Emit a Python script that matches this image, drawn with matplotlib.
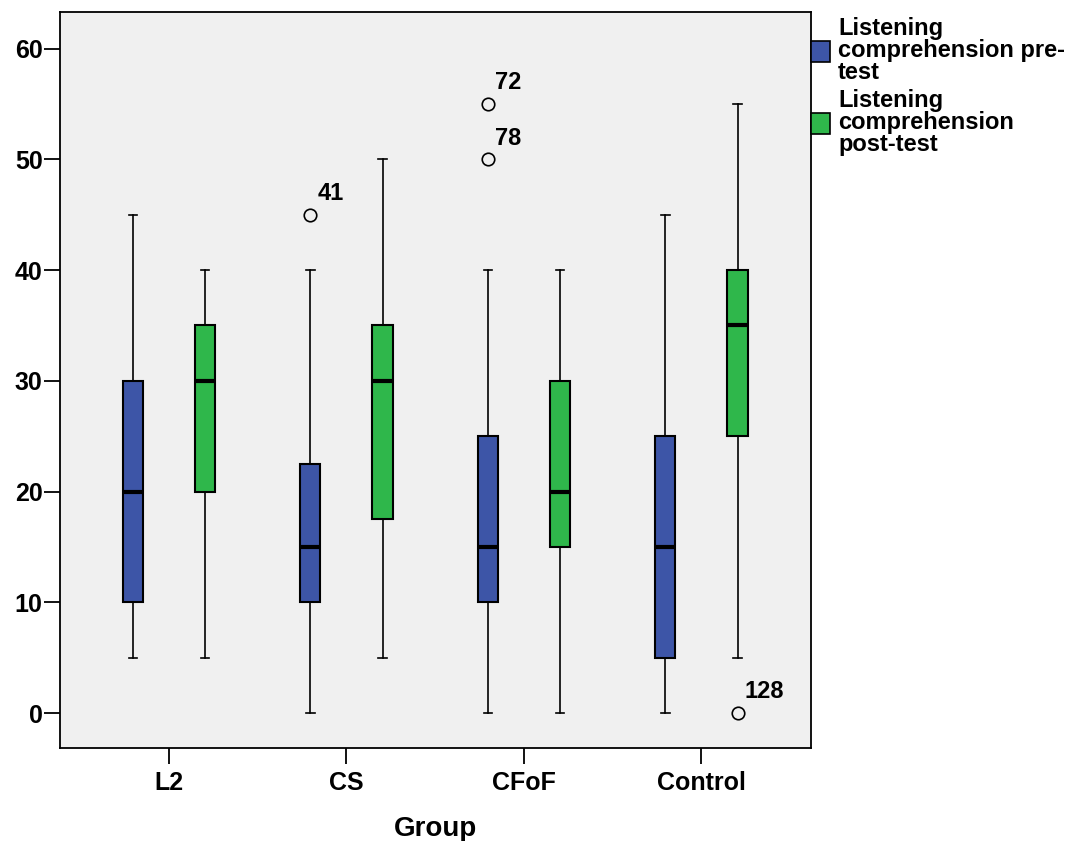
import matplotlib
matplotlib.use("Agg")
import matplotlib.pyplot as plt
from matplotlib.patches import Patch

plt.rcParams['font.family'] = ['Liberation Sans', 'DejaVu Sans']
plt.rcParams['font.weight'] = 'bold'

groups = ["L2", "CS", "CFoF", "Control"]
series_names = ["Listening\ncomprehension pre-\ntest",
                "Listening\ncomprehension\npost-test"]

# five-number summaries per group: (whisker low, Q1, median, Q3, whisker high)
pre_whislo = [5, 0, 0, 0]
pre_q1 = [10, 10, 10, 5]
pre_med = [20, 15, 15, 15]
pre_q3 = [30, 22.5, 25, 25]
pre_whishi = [45, 40, 40, 45]

post_whislo = [5, 5, 0, 5]
post_q1 = [20, 17.5, 15, 25]
post_med = [30, 30, 20, 35]
post_q3 = [35, 35, 30, 40]
post_whishi = [40, 50, 40, 55]

# outliers with case numbers
pre_outliers = [[], [45], [55, 50], []]
pre_outlier_ids = [[], ["41"], ["72", "78"], []]
post_outliers = [[], [], [], [0]]
post_outlier_ids = [[], [], [], ["128"]]

colors = ["#3d55a7", "#2fb74b"]
yticks = [0, 10, 20, 30, 40, 50, 60]

fig = plt.figure(figsize=(10.69, 8.41), dpi=100)
ax = fig.add_axes([60 / 1069, 1 - 748 / 841, 751 / 1069, 736 / 841])
ax.set_facecolor("#f0f0f0")

offset = 0.203
width = 0.113

def make_stats(lo, q1, med, q3, hi, fl):
    return [dict(whislo=a, q1=b, med=c, q3=d, whishi=e, fliers=f)
            for a, b, c, d, e, f in zip(lo, q1, med, q3, hi, fl)]

series = [
    (make_stats(pre_whislo, pre_q1, pre_med, pre_q3, pre_whishi, pre_outliers), pre_outlier_ids, -offset),
    (make_stats(post_whislo, post_q1, post_med, post_q3, post_whishi, post_outliers), post_outlier_ids, offset),
]

for (stats, ids, dx), col in zip(series, colors):
    pos = [i + dx for i in range(len(groups))]
    ax.bxp(stats, positions=pos, widths=width, capwidths=0.05,
           patch_artist=True, manage_ticks=False,
           boxprops=dict(facecolor=col, edgecolor="black", linewidth=1.5),
           medianprops=dict(color="black", linewidth=3),
           whiskerprops=dict(color="black", linewidth=1.2),
           capprops=dict(color="black", linewidth=1.2),
           flierprops=dict(marker="o", markerfacecolor="none",
                           markeredgecolor="black", markersize=9,
                           markeredgewidth=1.2))
    for p, st, lab in zip(pos, stats, ids):
        for v, t in zip(st["fliers"], lab):
            ax.annotate(t, (p, v), xytext=(5, 7), textcoords="offset points",
                        fontsize=17, fontweight="bold", ha="left", va="bottom")

ax.set_xlim(-0.614, 3.617)
ax.set_ylim(-3.16, 63.3)
ax.set_xticks(range(len(groups)))
ax.set_xticklabels(groups)
ax.set_yticks(yticks)
ax.tick_params(axis="both", length=11.5, width=1.3, labelsize=18, pad=2)
ax.tick_params(axis="y", pad=1)
ax.tick_params(axis="x", pad=5)
for s in ax.spines.values():
    s.set_linewidth(1.3)
ax.set_xlabel("Group", fontsize=20, fontweight="bold", labelpad=15)

handles = [Patch(facecolor=c, edgecolor="black", linewidth=1.2) for c in colors]
leg = fig.legend(handles, series_names, loc="upper left",
                 bbox_to_anchor=(811 / 1069, 1 - 17 / 841), frameon=False,
                 fontsize=17, handlelength=0.8, handleheight=1.0,
                 handletextpad=0.35, labelspacing=0.2, borderaxespad=0,
                 borderpad=0)
for t in leg.get_texts():
    t.set_linespacing(0.95)

fig.savefig("out.png", dpi=100)
